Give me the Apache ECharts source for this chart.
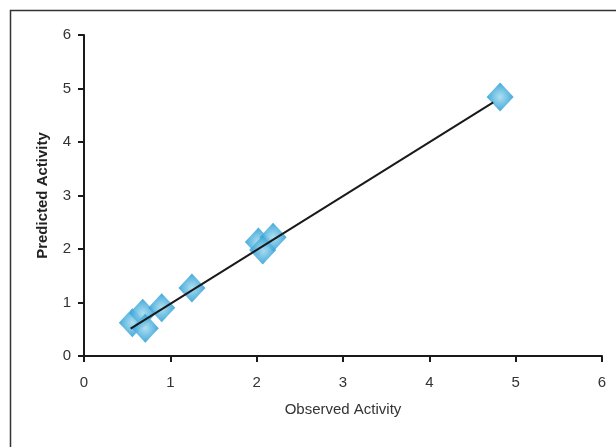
<!DOCTYPE html>
<html><head><meta charset="utf-8">
<script src="https://cdn.jsdelivr.net/npm/echarts@6/dist/echarts.min.js"></script>
<style>html,body{margin:0;padding:0;background:#fff}#c{width:616px;height:447px}</style>
</head><body><div id="c"></div>
<script>
var observed  = [0.56, 0.68, 0.71, 0.90, 1.25, 2.02, 2.19, 2.07, 4.82];
var predicted = [0.62, 0.80, 0.52, 0.90, 1.27, 2.13, 2.22, 1.98, 4.84];
var fitX = [0.54, 4.74];
var fitY = [0.51, 4.74];
var xTicks = [0,1,2,3,4,5,6];
var yTicks = [0,1,2,3,4,5,6];

var pts = observed.map(function(v,i){return [v, predicted[i]];});
var fit = fitX.map(function(v,i){return [v, fitY[i]];});
var font = 'Liberation Sans, Arial, sans-serif';
var chart = echarts.init(document.getElementById('c'));
chart.setOption({
  animation:false,
  backgroundColor:'#fff',
  graphic:[{type:'rect',shape:{x:10.5,y:10.5,width:800,height:800},style:{fill:'none',stroke:'#333',lineWidth:1.5},z:-1}],
  grid:{left:84,right:14,top:35,bottom:91},
  xAxis:{type:'value',min:0,max:6,interval:1,
    name:'Observed Activity',nameLocation:'middle',nameGap:46,
    nameTextStyle:{fontFamily:font,fontSize:15,color:'#333'},
    axisLine:{lineStyle:{color:'#1a1a1a',width:2}},
    axisTick:{show:true,length:6,lineStyle:{color:'#1a1a1a',width:2}},
    axisLabel:{fontFamily:font,fontSize:15,color:'#333',margin:19,
      formatter:function(v){return xTicks.indexOf(v)>=0?String(v):'';}},
    splitLine:{show:false}},
  yAxis:{type:'value',min:0,max:6,interval:1,
    name:'Predicted Activity',nameLocation:'middle',nameGap:34,
    nameTextStyle:{fontFamily:font,fontSize:15,fontWeight:'bold',color:'#222'},
    axisLine:{show:true,lineStyle:{color:'#1a1a1a',width:2}},
    axisTick:{show:true,length:6,lineStyle:{color:'#1a1a1a',width:2}},
    axisLabel:{fontFamily:font,fontSize:15,color:'#333',margin:13,
      formatter:function(v){return yTicks.indexOf(v)>=0?String(v):'';}},
    splitLine:{show:false}},
  series:[
    {type:'scatter',data:pts,symbol:'diamond',symbolSize:[27,29],
     itemStyle:{opacity:0.9,color:{type:'radial',x:0.5,y:0.5,r:0.5,colorStops:[{offset:0,color:'#a6dcef'},{offset:1,color:'#2f9fd6'}]}},z:2},
    {type:'line',data:fit,symbol:'none',lineStyle:{color:'#1a1a1a',width:2},z:3}
  ]
});
</script></body></html>
